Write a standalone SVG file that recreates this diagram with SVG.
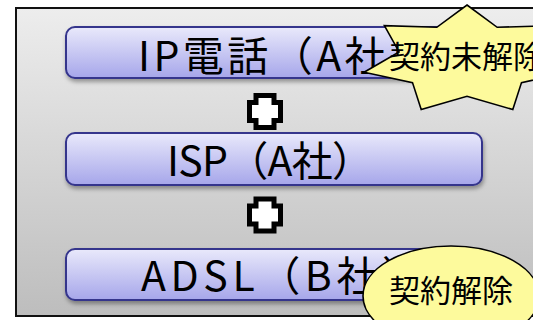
<svg xmlns="http://www.w3.org/2000/svg" width="533" height="320" viewBox="0 0 533 320">
<defs>
<linearGradient id="bg" x1="0" y1="0" x2="0" y2="1">
<stop offset="0" stop-color="#ededed"/>
<stop offset="1" stop-color="#bdbdbd"/>
</linearGradient>
<linearGradient id="box" x1="0" y1="0" x2="0" y2="1">
<stop offset="0" stop-color="#e9e9fb"/>
<stop offset="1" stop-color="#a6a6ea"/>
</linearGradient>
<filter id="sh" x="-10%" y="-20%" width="120%" height="150%">
<feDropShadow dx="1" dy="3" stdDeviation="2" flood-color="#000" flood-opacity="0.35"/>
</filter>
<path id="plus" d="M-9,-16 H9 V-9 H15.5 V9 H9 V16 H-9 V9 H-15.5 V-9 H-9 Z"/>
</defs>
<style>
.frame{fill:url(#bg);stroke:#111;stroke-width:2}
.box{fill:url(#box);stroke:#34348c;stroke-width:2;filter:url(#sh)}
.lbl{font-family:"Noto Sans CJK JP","Noto Sans",sans-serif;font-size:41px;fill:#000}
.call{fill:#fdfa9c;stroke:#000;stroke-width:1.6}
.ctxt{font-family:"Noto Sans CJK JP",sans-serif;font-size:31px;fill:#000}
.plus{fill:#fff;stroke:#000;stroke-width:5;stroke-linejoin:miter}
</style>
<g id="frame">
<rect class="frame" x="16" y="8" width="540" height="308"/>
</g>
<g id="connectors">
<use href="#plus" class="plus" x="265" y="111.5"/>
<use href="#plus" class="plus" x="265" y="215"/>
</g>
<g id="ip">
<rect class="box" x="66" y="27" width="416" height="51" rx="9"/>
<text class="lbl" x="138" y="71" textLength="292" lengthAdjust="spacing">IP電話（A社）</text>
</g>
<g id="isp">
<rect class="box" x="66" y="133" width="416" height="52" rx="9"/>
<text class="lbl" x="167" y="176" textLength="206" lengthAdjust="spacing">ISP（A社）</text>
</g>
<g id="adsl">
<rect class="box" x="66" y="249" width="416" height="51" rx="9"/>
<text class="lbl" x="141" y="291" textLength="282" lengthAdjust="spacing">ADSL（B社）</text>
</g>
<g id="star">
<polygon class="call" points="467,5 497.2,27.3 549.6,25.7 534.9,51.9 569.9,72.2 521.5,82.6 512.8,109.6 467,96.3 421.2,109.6 412.5,82.6 364.1,72.2 399.1,51.9 384.4,25.7 436.8,27.3"/>
<text class="ctxt" x="389" y="68">契約未解除</text>
</g>
<g id="ellipse">
<ellipse class="call" cx="451" cy="296" rx="88" ry="50" stroke-width="2"/>
<text class="ctxt" x="451" y="302" text-anchor="middle">契約解除</text>
</g>
</svg>
